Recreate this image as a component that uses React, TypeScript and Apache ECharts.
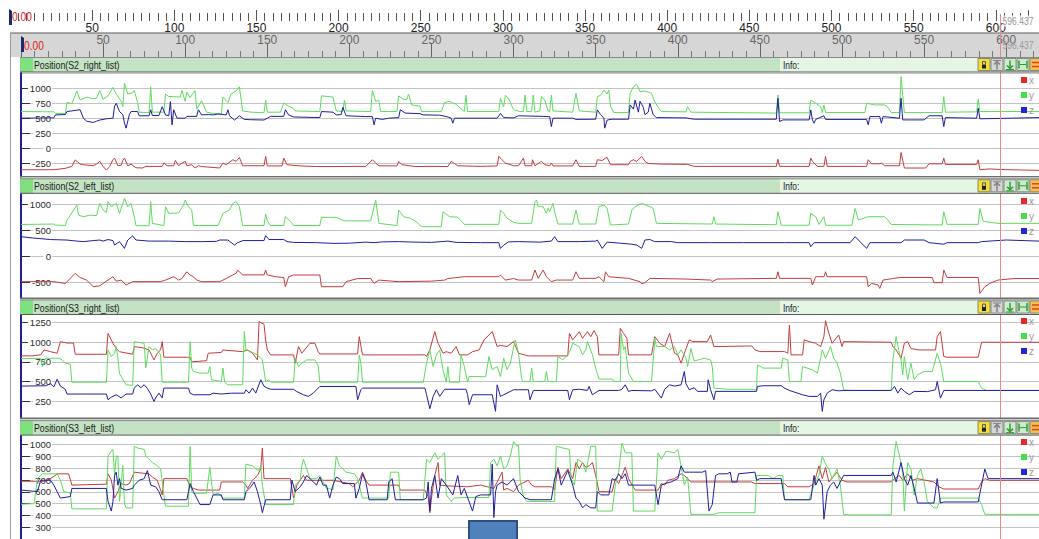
import React, { useEffect, useRef } from "react";
import * as echarts from "echarts";

type Pt = [number, number];

// ---------- data ----------
const TIME_MIN = 0;
const TIME_MAX = 620;
const CURSOR_TIME = 596.437;
const RULER_STEP = 50;

const panelTitles = [
  "Position(S2_right_list)",
  "Position(S2_left_list)",
  "Position(S3_right_list)",
  "Position(S3_left_list)",
];
const seriesNames = ["x", "y", "z"];
const panelAxisMin = [-500, -1000, 0, 200];
const panelAxisMax = [1250, 1250, 1500, 1100];
const panelAxisStep = [250, 500, 250, 100];

const s2RightX: Pt[] = [[0,-353],[20,-353],[27,-330],[31,-298],[33,-190],[36,-260],[38,-270],[44,-287],[46,-260],[48,-215],[50,-300],[52,-360],[54,-300],[56,-188],[57,-160],[59,-287],[61,-280],[62,-200],[63,-160],[65,-287],[67,-260],[70,-320],[74,-325],[76,-298],[86,-298],[87,-243],[89,-287],[93,-287],[94,-200],[96,-287],[98,-243],[100,-215],[101,-287],[104,-270],[106,-325],[108,-287],[110,-300],[121,-325],[123,-243],[125,-270],[129,-188],[131,-215],[133,-150],[135,-287],[148,-287],[149,-133],[150,-290],[159,-290],[160,-160],[162,-270],[170,-290],[180,-300],[190,-300],[210,-298],[214,-188],[216,-243],[218,-287],[229,-290],[230,-215],[232,-270],[240,-300],[251,-298],[260,-300],[262,-215],[264,-250],[266,-287],[280,-298],[290,-290],[291,-133],[293,-190],[295,-243],[300,-287],[303,-287],[306,-160],[307,-287],[311,-287],[311.5,-188],[313,-287],[317,-215],[319,-270],[322,-287],[323,-243],[324,-290],[336,-290],[338,-188],[340,-298],[350,-298],[351,-188],[354,-200],[356,-160],[357,-150],[359,-270],[370,-270],[371,-215],[373,-188],[375,-215],[378,-133],[380,-215],[382,-250],[390,-260],[406,-265],[410,-298],[460,-298],[461,-180],[462,-298],[480,-298],[481,-160],[482,-215],[485,-298],[489,-298],[490,-133],[491,-298],[515,-298],[516,-188],[518,-255],[523,-255],[524,-243],[526,-287],[535,-287],[536,-67],[538,-325],[551,-325],[553,-255],[561,-255],[562,-160],[563,-265],[582,-265],[583,-188],[584,-353],[590,-340],[597,-350],[620,-364]];
const s2RightY: Pt[] = [[0,610],[20,605],[21,580],[27,575],[28,760],[31,740],[34,950],[36,800],[40,850],[44,820],[46,830],[48,960],[50,810],[53,870],[56,1010],[58,900],[61,780],[62,690],[63,1080],[65,900],[68,920],[69,960],[71,760],[72,600],[78,590],[79,1020],[80,600],[87,600],[88,900],[90,860],[97,850],[98,960],[100,780],[101,930],[103,840],[106,960],[107,650],[110,790],[113,600],[117,580],[122,570],[123,850],[126,760],[128,900],[131,950],[133,1020],[135,620],[140,600],[148,590],[149,800],[150,600],[158,600],[160,750],[163,700],[166,660],[167,620],[182,610],[183,870],[190,850],[192,620],[196,610],[197,800],[198,620],[213,610],[214,960],[216,780],[218,790],[219,610],[229,610],[230,870],[233,810],[235,810],[236,900],[238,720],[243,700],[244,610],[256,610],[258,760],[261,780],[265,730],[267,680],[270,610],[271,880],[272,610],[291,610],[292,830],[294,690],[295,880],[297,820],[300,640],[304,610],[306,610],[307,885],[308,610],[311,610],[312,885],[313,600],[316,620],[317,857],[319,800],[321,620],[322,610],[323,885],[324,620],[336,600],[338,912],[340,620],[350,600],[351,857],[353,880],[355,967],[357,900],[358,967],[359,700],[361,593],[370,593],[371,912],[373,1022],[375,1060],[377,940],[380,950],[384,912],[386,775],[388,680],[390,610],[405,605],[406,690],[408,600],[460,585],[461,885],[462,590],[480,590],[481,800],[484,750],[487,690],[488,593],[489,720],[490,593],[514,593],[515,747],[520,720],[526,720],[528,680],[530,593],[535,593],[536,1187],[538,593],[561,593],[562,857],[563,600],[582,605],[583,813],[584,610],[620,610]];
const s2RightZ: Pt[] = [[0,500],[20,505],[21,555],[27,560],[28,610],[36,640],[38,500],[40,450],[44,430],[46,450],[48,470],[52,490],[56,500],[57,700],[58,747],[60,610],[62,560],[63,420],[64,335],[66,560],[67,610],[71,610],[72,540],[78,540],[79,640],[80,545],[84,545],[86,690],[88,555],[90,540],[91,775],[92,390],[93,640],[95,500],[100,500],[101,530],[107,530],[108,640],[110,555],[114,560],[117,555],[120,570],[125,555],[126,640],[127,540],[130,470],[133,540],[136,480],[140,475],[148,470],[150,500],[152,530],[160,530],[161,640],[163,555],[166,520],[182,510],[183,610],[190,600],[192,555],[195,560],[196,680],[198,540],[210,527],[214,527],[215,390],[216,500],[220,480],[224,500],[230,510],[231,640],[234,585],[243,575],[245,555],[255,550],[257,540],[260,520],[262,500],[263,417],[264,500],[290,500],[292,580],[294,510],[300,505],[303,540],[318,530],[322,525],[323,362],[324,500],[336,500],[338,480],[350,483],[351,637],[353,560],[355,500],[355.5,335],[357,470],[360,483],[370,483],[371,720],[373,650],[374,800],[376,600],[377,780],[379,680],[380,560],[382,600],[383,747],[385,560],[387,510],[405,505],[410,483],[460,483],[461,830],[462,445],[464,472],[480,472],[481,637],[482,472],[483,417],[484,480],[489,540],[490,480],[515,480],[516,390],[517,527],[523,527],[524,417],[525,527],[535,500],[536,830],[537,472],[550,472],[553,540],[561,540],[562,362],[563,510],[582,500],[583,665],[584,490],[620,510]];

const s2LeftX: Pt[] = [[0,-480],[20,-480],[27,-515],[33,-320],[36,-400],[40,-450],[44,-577],[48,-560],[50,-513],[56,-385],[58,-470],[61,-450],[64,-545],[68,-480],[85,-480],[88,-450],[93,-385],[96,-450],[98,-420],[101,-290],[103,-350],[105,-385],[107,-450],[110,-480],[121,-480],[125,-420],[129,-350],[131,-320],[132,-260],[135,-350],[148,-350],[149,-256],[150,-350],[155,-385],[160,-400],[161,-577],[163,-385],[166,-352],[182,-352],[183,-577],[196,-577],[198,-480],[205,-420],[213,-420],[215,-513],[218,-450],[230,-480],[250,-470],[258,-450],[260,-420],[270,-385],[291,-385],[292,-352],[295,-450],[300,-420],[303,-449],[311,-449],[313,-256],[315,-417],[318,-256],[320,-385],[323,-480],[326,-449],[336,-449],[338,-290],[340,-417],[350,-417],[352,-385],[355,-480],[356,-290],[358,-385],[370,-417],[377,-480],[378,-520],[380,-500],[383,-417],[405,-430],[420,-449],[421,-480],[424,-430],[460,-417],[461,-290],[462,-417],[481,-417],[482,-545],[484,-385],[489,-385],[490,-290],[491,-385],[515,-385],[516,-577],[518,-513],[522,-545],[523,-610],[525,-449],[535,-400],[555,-400],[556,-500],[561,-500],[562,-256],[564,-400],[583,-400],[584,-705],[587,-577],[590,-513],[595,-449],[605,-420],[620,-420]];
const s2LeftY: Pt[] = [[0,620],[20,628],[21,609],[27,600],[28,700],[34,995],[35,800],[38,769],[42,800],[46,790],[48,1026],[50,897],[52,850],[53,1058],[55,960],[58,1026],[60,833],[63,1122],[65,962],[67,1026],[69,769],[70,596],[78,596],[79,1058],[80,640],[87,600],[88,962],[90,833],[96,840],[99,995],[100,1090],[102,962],[104,897],[105,600],[120,600],[123,833],[127,897],[129,1026],[131,1058],[133,962],[135,600],[148,600],[149,820],[150,690],[152,600],[160,600],[161,769],[164,680],[166,600],[182,600],[183,756],[192,756],[196,700],[198,690],[213,690],[216,1090],[218,640],[229,600],[230,897],[233,769],[237,740],[240,690],[244,577],[256,577],[257,865],[261,769],[266,760],[268,690],[270,622],[291,622],[292,897],[294,833],[296,740],[300,660],[303,641],[311,641],[313,1058],[314,1090],[315,962],[318,962],[320,833],[321,930],[322,865],[324,1026],[325,865],[327,628],[336,628],[338,897],[340,628],[350,628],[352,962],[355,995],[357,930],[359,609],[370,628],[372,897],[374,962],[378,1026],[383,962],[385,930],[387,641],[421,628],[422,769],[423,628],[460,615],[461,865],[463,605],[480,605],[481,833],[484,769],[486,620],[489,769],[490,605],[506,605],[508,929],[510,705],[516,769],[526,769],[528,705],[530,620],[561,610],[562,865],[564,622],[583,622],[584,929],[586,680],[595,641],[620,641]];
const s2LeftZ: Pt[] = [[0,385],[7,360],[18,330],[28,320],[34,300],[38,290],[44,310],[48,320],[50,300],[53,330],[56,310],[57,224],[60,290],[63,160],[65,320],[68,400],[70,321],[78,300],[90,300],[100,290],[110,290],[119,295],[121,321],[126,320],[130,224],[132,270],[135,310],[148,310],[149,404],[151,330],[160,330],[162,290],[166,275],[180,270],[190,256],[200,260],[210,280],[215,270],[220,285],[230,290],[240,280],[250,275],[260,300],[265,275],[280,270],[291,270],[292,160],[294,224],[297,285],[303,290],[316,280],[323,300],[325,385],[327,290],[340,290],[350,300],[351,321],[354,160],[357,280],[365,260],[372,240],[375,224],[378,160],[380,321],[383,330],[386,290],[396,290],[400,270],[420,270],[440,270],[465,270],[480,270],[481,192],[483,270],[505,270],[508,385],[510,321],[515,160],[517,270],[536,270],[538,321],[550,321],[553,270],[562,240],[564,270],[583,270],[585,290],[600,321],[620,300]];

const s3RightX: Pt[] = [[0,826],[7,826],[12,840],[14,902],[18,880],[22,860],[24,1008],[28,990],[32,990],[33,847],[52,847],[53,1114],[56,987],[58,920],[60,880],[68,847],[69,945],[74,930],[78,902],[81,775],[83,860],[85,902],[86,1008],[87,809],[103,809],[104,750],[113,765],[114,860],[122,870],[123,902],[135,880],[138,902],[141,860],[144,775],[145,1263],[148,1230],[149,1030],[150,902],[152,839],[166,839],[167,733],[169,945],[171,860],[176,987],[179,987],[181,880],[182,851],[205,851],[206,1072],[208,839],[246,839],[247,818],[249,902],[252,1136],[254,987],[257,860],[259,880],[262,860],[265,945],[267,839],[272,839],[275,880],[279,902],[282,1030],[287,1136],[290,945],[292,960],[296,945],[300,1008],[303,860],[309,826],[333,826],[334,1114],[336,1030],[340,1136],[342,1050],[345,1136],[347,1072],[349,1148],[351,1072],[352,839],[364,839],[365,1178],[367,1114],[369,1050],[370,839],[384,839],[386,1072],[389,987],[392,945],[395,1114],[398,860],[400,839],[402,733],[404,860],[407,1030],[409,1008],[418,1008],[420,1093],[422,945],[445,953],[447,902],[450,881],[465,881],[467,860],[468,1220],[469,839],[476,839],[477,1030],[480,1008],[484,987],[487,945],[489,1072],[490,1275],[492,1114],[494,987],[498,1093],[500,945],[501,1008],[530,1000],[531,945],[533,902],[536,796],[538,987],[540,1008],[542,920],[547,902],[557,902],[558,1072],[560,1136],[562,818],[564,809],[583,809],[585,1000],[620,1000]];
const s3RightY: Pt[] = [[0,790],[12,796],[13,690],[15,796],[23,796],[25,775],[27,733],[30,720],[31,490],[52,490],[53,902],[55,818],[57,860],[58,945],[59,796],[60,600],[64,457],[68,450],[69,1008],[75,987],[76,670],[78,945],[80,902],[82,920],[85,840],[86,490],[102,490],[103,1008],[104,670],[105,627],[109,606],[114,606],[115,690],[116,521],[122,500],[123,670],[124,490],[126,457],[135,457],[136,1136],[137,902],[140,881],[144,839],[147,775],[149,500],[151,521],[152,490],[166,490],[167,796],[169,690],[171,733],[174,775],[179,775],[181,700],[182,490],[205,490],[206,839],[207,733],[208,490],[245,490],[247,733],[249,902],[251,690],[253,839],[255,902],[257,650],[259,490],[260,690],[261,490],[267,490],[268,839],[270,690],[272,490],[273,563],[283,560],[285,818],[287,650],[290,690],[292,563],[294,796],[296,650],[298,733],[301,1030],[303,860],[305,520],[306,500],[310,500],[311,670],[312,500],[319,500],[320,627],[321,500],[326,500],[327,818],[330,775],[334,870],[336,987],[340,945],[342,840],[344,902],[345,1008],[348,840],[350,670],[352,530],[360,530],[361,500],[365,500],[365.5,1114],[367,902],[368,945],[370,606],[373,500],[384,500],[386,1050],[387,945],[392,945],[395,902],[398,945],[400,840],[402,902],[405,796],[406,690],[408,920],[410,760],[416,796],[420,775],[421,690],[422,415],[430,400],[445,400],[448,394],[448.5,711],[452,670],[463,670],[464,796],[467,775],[468,500],[475,500],[476,690],[482,648],[485,606],[487,796],[488,902],[490,796],[493,945],[495,796],[497,733],[499,606],[501,394],[505,385],[530,385],[531,775],[533,1072],[535,860],[536,775],[537,585],[538,818],[540,521],[542,733],[544,521],[546,585],[550,627],[555,627],[558,860],[560,733],[562,500],[583,500],[585,415],[588,385],[620,385]];
const s3RightZ: Pt[] = [[0,440],[15,445],[18,470],[20,430],[22,528],[24,440],[27,400],[28,339],[52,339],[53,266],[55,300],[58,330],[61,290],[64,339],[68,339],[69,415],[71,457],[73,420],[75,457],[77,410],[79,339],[81,245],[82,290],[84,351],[86,290],[87,415],[102,415],[103,350],[105,330],[115,330],[117,350],[122,339],[128,350],[136,350],[137,394],[139,350],[141,415],[143,351],[146,521],[148,440],[150,415],[152,400],[166,400],[168,370],[172,330],[175,309],[178,351],[181,415],[182,436],[204,436],[205,266],[207,394],[208,415],[246,415],[247,330],[249,152],[251,309],[253,394],[255,309],[258,400],[271,400],[272,330],[273,203],[275,330],[287,330],[289,118],[290,457],[292,309],[296,351],[300,394],[303,394],[309,394],[310,266],[312,385],[333,385],[334,266],[336,394],[340,400],[345,385],[346,436],[348,330],[352,385],[364,385],[366,400],[368,457],[370,373],[372,385],[384,380],[386,400],[390,287],[392,400],[395,457],[398,440],[402,457],[404,627],[405,470],[407,394],[410,420],[412,373],[418,373],[418.5,521],[420,394],[422,266],[423,373],[448,373],[448.5,436],[452,445],[463,445],[465,415],[468,385],[476,330],[480,309],[485,309],[487,350],[488,118],[489,266],[491,350],[494,394],[498,380],[501,385],[530,385],[532,436],[534,351],[536,415],[538,373],[541,330],[544,373],[552,370],[557,394],[558,500],[560,287],[562,385],[620,385]];

const s3LeftX: Pt[] = [[0,690],[15,690],[20,730],[22,753],[29,753],[31,657],[52,665],[53,753],[55,700],[57,547],[59,600],[61,670],[64,657],[66,670],[69,767],[73,760],[78,753],[80,725],[83,698],[86,574],[87,712],[101,712],[103,643],[105,629],[108,615],[121,615],[122,684],[135,684],[137,657],[138,629],[141,698],[144,739],[146,794],[147,972],[148,712],[164,712],[166,547],[168,657],[170,698],[172,739],[174,698],[190,698],[200,670],[202,643],[206,698],[208,767],[210,698],[212,657],[230,657],[231,615],[246,615],[248,560],[249,423],[250,547],[252,739],[254,849],[255,657],[260,650],[272,643],[280,657],[284,643],[288,629],[291,712],[293,767],[294,615],[296,629],[300,602],[303,657],[309,698],[311,657],[313,643],[323,643],[325,615],[327,808],[329,712],[333,794],[336,712],[338,849],[340,794],[342,849],[344,808],[346,821],[348,849],[350,739],[352,602],[360,600],[362,712],[364,670],[366,739],[368,808],[370,712],[374,615],[388,615],[390,670],[392,657],[394,698],[398,712],[402,753],[404,739],[408,684],[445,684],[447,670],[465,670],[467,643],[480,643],[483,670],[486,821],[488,712],[490,808],[492,684],[497,767],[500,698],[503,684],[530,684],[532,712],[535,739],[537,698],[540,753],[543,698],[546,712],[556,684],[559,643],[562,624],[583,624],[585,684],[587,712],[590,698],[620,698]];
const s3LeftY: Pt[] = [[0,495],[8,500],[10,712],[13,753],[22,753],[24,698],[26,602],[30,590],[31,456],[52,456],[53,904],[55,945],[56,960],[57,739],[58,904],[59,904],[60,520],[62,821],[63,500],[64,464],[68,464],[69,986],[71,972],[75,960],[76,904],[78,876],[80,849],[83,821],[85,794],[87,574],[88,478],[102,478],[103,986],[104,602],[105,588],[113,588],[115,808],[117,574],[120,590],[123,547],[136,547],[137,835],[141,821],[143,794],[145,780],[146,821],[147,657],[149,492],[166,492],[167,657],[170,698],[171,821],[172,876],[174,794],[176,712],[180,712],[182,739],[186,629],[190,620],[192,904],[194,821],[198,767],[203,753],[205,712],[208,547],[224,547],[225,767],[230,767],[231,533],[245,533],[247,876],[249,849],[251,904],[252,931],[254,876],[256,904],[258,931],[259,574],[262,520],[264,547],[270,552],[285,552],[286,849],[288,876],[290,821],[292,904],[294,794],[296,821],[298,904],[300,1027],[302,986],[303,1000],[304,700],[306,560],[308,519],[325,519],[326,986],[330,972],[334,960],[335,712],[337,657],[339,876],[342,849],[344,767],[347,986],[350,986],[351,437],[360,437],[362,657],[364,767],[366,1014],[368,931],[372,931],[373,437],[386,437],[388,931],[390,876],[393,945],[398,931],[400,959],[402,821],[404,657],[406,725],[408,409],[422,409],[425,423],[447,423],[448,739],[455,739],[458,712],[461,739],[464,739],[465,533],[480,533],[483,657],[486,739],[488,904],[490,835],[492,794],[494,712],[497,794],[499,657],[501,409],[505,404],[530,404],[531,821],[533,1027],[535,904],[537,767],[538,437],[540,849],[542,794],[544,574],[546,739],[548,794],[550,684],[552,519],[556,464],[558,464],[560,547],[583,547],[585,492],[587,409],[620,409]];
const s3LeftZ: Pt[] = [[0,615],[10,602],[12,698],[18,698],[20,657],[23,574],[24,547],[30,560],[31,629],[52,629],[53,519],[55,437],[56,519],[57,739],[58,767],[59,657],[60,712],[61,629],[64,615],[68,629],[69,657],[72,698],[75,712],[77,780],[79,657],[82,643],[84,602],[86,533],[101,533],[103,670],[105,602],[109,492],[115,492],[117,574],[122,574],[123,533],[136,533],[137,602],[140,643],[142,684],[144,602],[146,492],[147,423],[149,533],[164,533],[165,698],[167,602],[170,643],[172,684],[174,739],[176,712],[180,657],[182,725],[184,657],[186,657],[188,547],[190,657],[192,725],[194,712],[196,670],[203,670],[204,547],[206,629],[208,753],[210,684],[212,533],[223,533],[224,684],[226,712],[228,533],[245,533],[247,547],[248,684],[249,437],[250,629],[252,739],[254,547],[256,712],[259,657],[263,574],[266,739],[268,574],[270,629],[275,437],[277,560],[280,574],[286,574],[287,835],[288,382],[289,600],[290,657],[293,684],[296,657],[300,712],[303,602],[307,547],[310,533],[323,533],[325,712],[327,794],[329,657],[333,780],[336,657],[338,547],[340,519],[342,464],[344,492],[347,464],[350,464],[351,602],[353,574],[358,574],[360,712],[362,698],[364,753],[366,712],[368,753],[370,657],[386,657],[388,492],[390,657],[392,670],[396,684],[400,712],[402,821],[404,767],[407,767],[415,767],[417,780],[419,437],[421,492],[423,739],[425,753],[430,753],[432,767],[433,684],[436,684],[437,753],[447,767],[448,698],[450,712],[463,712],[465,533],[481,533],[483,739],[484,657],[486,712],[488,657],[489,368],[491,602],[493,657],[495,684],[497,629],[499,684],[501,739],[530,739],[531,767],[533,684],[536,849],[538,712],[540,657],[542,739],[544,629],[546,505],[556,505],[558,712],[560,505],[562,514],[583,514],[585,657],[587,794],[589,712],[620,712]];

const panelData: Pt[][][] = [
  [s2RightX, s2RightY, s2RightZ],
  [s2LeftX, s2LeftY, s2LeftZ],
  [s3RightX, s3RightY, s3RightZ],
  [s3LeftX, s3LeftY, s3LeftZ],
];

// ---------- layout / style ----------
const W = 1039;
const H = 539;
const PX_PER_UNIT = 1.643;
const PLOT_LEFT = 21;
const TOP_RULER_LEFT = 10;
const AXIS_WIDTH = (TIME_MAX - TIME_MIN) * PX_PER_UNIT;
const lineColors = ["#c43c3c", "#5cdc5c", "#1e1e9e"];
const legendColors = ["#e82828", "#46e046", "#2424d8"];
const SANS = "'Liberation Sans',Arial,sans-serif";

const panelLayout = [
  { gridTop: 72.9, gridHeight: 105.7, headerTop: 57.5, legendTop: 77 },
  { gridTop: 191.7, gridHeight: 117, headerTop: 178.8, legendTop: 198 },
  { gridTop: 303.1, gridHeight: 117.5, headerTop: 300, legendTop: 318 },
  { gridTop: 432.9, gridHeight: 109.3, headerTop: 420.6, legendTop: 439 },
];
const HEADER_H = 14.5;

function headerEls(title: string, hT: number): any[] {
  const hB = hT + HEADER_H;
  const y0 = hT + 1;
  const midY = hT + HEADER_H / 2 + 0.5;
  return [
    { type: "rect", z: 50, shape: { x: 20, y: hT, width: W - 20, height: HEADER_H }, style: { fill: "#c4e3c4" } },
    { type: "rect", z: 50, shape: { x: 20, y: hT, width: 13, height: HEADER_H }, style: { fill: "#7ee07e" } },
    { type: "rect", z: 50, shape: { x: 780, y: hT, width: 198, height: HEADER_H }, style: { fill: "#e5f6e5" } },
    { type: "line", z: 51, shape: { x1: 20, y1: hT, x2: W, y2: hT }, style: { stroke: "#8a8a8a", lineWidth: 1 } },
    { type: "line", z: 51, shape: { x1: 20, y1: hB, x2: W, y2: hB }, style: { stroke: "#5a5a5a", lineWidth: 1 } },
    { type: "text", z: 52, x: 34, y: midY, scaleX: 0.8, style: { text: title, fill: "#1a1a1a", fontSize: 11, fontFamily: SANS, verticalAlign: "middle" } },
    { type: "text", z: 52, x: 783, y: midY, scaleX: 0.8, style: { text: "Info:", fill: "#1a1a1a", fontSize: 10.5, fontFamily: SANS, verticalAlign: "middle" } },
    // lock icon
    { type: "rect", z: 53, shape: { x: 978, y: y0, width: 12, height: 12 }, style: { fill: "#f2df3c", stroke: "#8a8a5a", lineWidth: 1 } },
    { type: "rect", z: 54, shape: { x: 982, y: y0 + 6, width: 4, height: 4 }, style: { fill: "#222" } },
    { type: "polyline", z: 54, shape: { points: [[982.5, y0 + 6], [982.5, y0 + 3], [985.5, y0 + 3], [985.5, y0 + 6]] }, style: { stroke: "#555", fill: null, lineWidth: 1 } },
    // up arrow icon
    { type: "rect", z: 53, shape: { x: 991, y: y0, width: 12, height: 12 }, style: { fill: "#d6d6d6", stroke: "#8a8a8a", lineWidth: 1 } },
    { type: "line", z: 54, shape: { x1: 997, y1: y0 + 3, x2: 997, y2: y0 + 11 }, style: { stroke: "#808080", lineWidth: 1.5 } },
    { type: "polyline", z: 54, shape: { points: [[994, y0 + 6], [997, y0 + 3], [1000, y0 + 6]] }, style: { stroke: "#808080", fill: null, lineWidth: 1.5 } },
    { type: "line", z: 54, shape: { x1: 993, y1: y0 + 2, x2: 1001, y2: y0 + 2 }, style: { stroke: "#808080", lineWidth: 1 } },
    // down arrow icon
    { type: "rect", z: 53, shape: { x: 1004, y: y0, width: 12, height: 12 }, style: { fill: "#cdeccd", stroke: "#8a8a8a", lineWidth: 1 } },
    { type: "line", z: 54, shape: { x1: 1010, y1: y0 + 2, x2: 1010, y2: y0 + 10 }, style: { stroke: "#2f9a2f", lineWidth: 1.5 } },
    { type: "polyline", z: 54, shape: { points: [[1007, y0 + 7], [1010, y0 + 10], [1013, y0 + 7]] }, style: { stroke: "#2f9a2f", fill: null, lineWidth: 1.5 } },
    { type: "line", z: 54, shape: { x1: 1006, y1: y0 + 11, x2: 1014, y2: y0 + 11 }, style: { stroke: "#2f9a2f", lineWidth: 1 } },
    // left-right icon
    { type: "rect", z: 53, shape: { x: 1017, y: y0, width: 12, height: 12 }, style: { fill: "#cdeccd", stroke: "#8a8a8a", lineWidth: 1 } },
    { type: "line", z: 54, shape: { x1: 1019, y1: y0 + 2, x2: 1019, y2: y0 + 10 }, style: { stroke: "#2f9a2f", lineWidth: 1.5 } },
    { type: "line", z: 54, shape: { x1: 1027, y1: y0 + 2, x2: 1027, y2: y0 + 10 }, style: { stroke: "#2f9a2f", lineWidth: 1.5 } },
    { type: "line", z: 54, shape: { x1: 1020, y1: y0 + 6, x2: 1026, y2: y0 + 6 }, style: { stroke: "#2f9a2f", lineWidth: 1 } },
    // orange icon (cut off)
    { type: "rect", z: 53, shape: { x: 1030, y: y0, width: 12, height: 12 }, style: { fill: "#f4c24c", stroke: "#8a8a8a", lineWidth: 1 } },
    { type: "line", z: 54, shape: { x1: 1032, y1: y0 + 4, x2: 1039, y2: y0 + 4 }, style: { stroke: "#e0402a", lineWidth: 1.5 } },
    { type: "line", z: 54, shape: { x1: 1032, y1: y0 + 8, x2: 1039, y2: y0 + 8 }, style: { stroke: "#e0402a", lineWidth: 1.5 } },
  ];
}

function legendEls(lT: number): any[] {
  const els: any[] = [];
  seriesNames.forEach((n, j) => {
    const y = lT + j * 15;
    els.push({ type: "rect", z: 60, shape: { x: 1021, y, width: 6, height: 6 }, style: { fill: legendColors[j] } });
    els.push({ type: "text", z: 60, x: 1029, y: y + 3, style: { text: n, fill: "#9a9a9a", fontSize: 10, fontFamily: SANS, verticalAlign: "middle" } });
  });
  return els;
}

function separatorEls(y: number): any[] {
  return [
    { type: "rect", z: 49, shape: { x: 20, y, width: W - 20, height: 1.5 }, style: { fill: "#6e6e6e" } },
    { type: "rect", z: 49, shape: { x: 20, y: y + 1.5, width: W - 20, height: 1.5 }, style: { fill: "#d2d2d2" } },
  ];
}

function buildGraphic(cursorX: number): any[] {
  const els: any[] = [];
  els.push({ type: "rect", z: 1, shape: { x: 10, y: 33, width: 11, height: 24 }, style: { fill: "#d6d6d6" } });
  els.push({ type: "line", z: 40, shape: { x1: 10, y1: 33, x2: W, y2: 33 }, style: { stroke: "#5a5a5a", lineWidth: 1 } });
  els.push({ type: "line", z: 40, shape: { x1: 10.5, y1: 33, x2: 10.5, y2: H }, style: { stroke: "#9c9c9c", lineWidth: 1 } });
  // cursor
  els.push({ type: "line", z: 45, shape: { x1: cursorX, y1: 14, x2: cursorX, y2: H }, style: { stroke: "#e58a8a", lineWidth: 1 } });
  els.push({ type: "text", z: 46, x: cursorX + 2, y: 21, scaleX: 0.78, style: { text: String(CURSOR_TIME), fill: "#9a9a9a", fontSize: 11, fontFamily: SANS, verticalAlign: "middle", backgroundColor: "rgba(255,255,255,0.75)" } });
  els.push({ type: "text", z: 46, x: cursorX + 2, y: 45, scaleX: 0.78, style: { text: String(CURSOR_TIME), fill: "#9a9a9a", fontSize: 11, fontFamily: SANS, verticalAlign: "middle" } });
  // zero markers
  els.push({ type: "polygon", z: 46, shape: { points: [[9, 9], [12, 11], [12, 25], [9, 25]] }, style: { fill: "#1c2a6e" } });
  els.push({ type: "text", z: 46, x: 12, y: 17, scaleX: 0.85, style: { text: "0.00", fill: "#e02020", fontSize: 12, fontFamily: SANS, verticalAlign: "middle" } });
  els.push({ type: "polygon", z: 46, shape: { points: [[21, 36], [24, 38], [24, 52], [21, 52]] }, style: { fill: "#1c2a6e" } });
  els.push({ type: "text", z: 46, x: 24, y: 46, scaleX: 0.85, style: { text: "0.00", fill: "#e02020", fontSize: 12, fontFamily: SANS, verticalAlign: "middle" } });

  panelLayout.forEach((p, i) => {
    els.push(...headerEls(panelTitles[i], p.headerTop));
    els.push(...legendEls(p.legendTop));
  });
  els.push(...separatorEls(176), ...separatorEls(297.5), ...separatorEls(417.6));
  els.push({ type: "rect", z: 70, shape: { x: 469, y: 521, width: 48, height: 20 }, style: { fill: "#4f81bd", stroke: "#2f4f7f", lineWidth: 2 } });
  return els;
}

function buildOption(): any {
  const grids: any[] = [
    { left: TOP_RULER_LEFT, top: 10, width: AXIS_WIDTH, height: 11, show: false },
    { left: PLOT_LEFT, top: 33, width: AXIS_WIDTH, height: 24, show: true, backgroundColor: "#d6d6d6", borderWidth: 0 },
  ];
  const plain = (v: number) => String(v);
  const xAxes: any[] = [
    {
      gridIndex: 0, type: "value", min: TIME_MIN, max: TIME_MAX, interval: RULER_STEP, position: "bottom",
      axisLine: { show: false },
      axisTick: { show: true, inside: true, length: 11, lineStyle: { color: "#555" } },
      minorTick: { show: true, splitNumber: 10, length: 8, lineStyle: { color: "#555" } },
      axisLabel: { margin: 1, fontSize: 12, color: "#222", fontFamily: SANS, showMinLabel: false, showMaxLabel: false, formatter: plain },
      splitLine: { show: false },
    },
    {
      gridIndex: 1, type: "value", min: TIME_MIN, max: TIME_MAX, interval: RULER_STEP, position: "bottom",
      axisLine: { show: false },
      axisTick: { show: true, inside: true, length: 14, lineStyle: { color: "#666" } },
      minorTick: { show: true, splitNumber: 6, length: 6, lineStyle: { color: "#777" } },
      axisLabel: { inside: true, margin: 11, fontSize: 12, color: "#666", fontFamily: SANS, showMinLabel: false, showMaxLabel: false, formatter: plain },
      splitLine: { show: false },
    },
  ];
  const yAxes: any[] = [
    { gridIndex: 0, type: "value", show: false, min: 0, max: 1 },
    { gridIndex: 1, type: "value", show: false, min: 0, max: 1 },
  ];
  const series: any[] = [];
  panelLayout.forEach((p, i) => {
    const gi = i + 2;
    grids.push({ left: PLOT_LEFT, top: p.gridTop, width: AXIS_WIDTH, height: p.gridHeight, show: false });
    xAxes.push({ gridIndex: gi, type: "value", min: TIME_MIN, max: TIME_MAX, show: false });
    yAxes.push({
      gridIndex: gi, type: "value", min: panelAxisMin[i], max: panelAxisMax[i], interval: panelAxisStep[i],
      axisLine: { show: true, onZero: false, lineStyle: { color: "#1e1e9e", width: 2 } },
      axisTick: { show: true, inside: true, length: 9, lineStyle: { color: "#333" } },
      axisLabel: {
        inside: true, align: "right", margin: 31, fontSize: 9.5, color: "#2a2a2a", fontFamily: SANS,
        backgroundColor: "#fff", padding: [0, 1, 0, 2], showMinLabel: false, showMaxLabel: false, formatter: plain,
      },
      splitLine: { show: true, lineStyle: { color: "#c4c4c4", width: 1 } },
    });
    panelData[i].forEach((d, j) => {
      series.push({
        type: "line", name: seriesNames[j], xAxisIndex: gi, yAxisIndex: gi, data: d,
        showSymbol: false, symbol: "none", silent: true, z: 2 + j,
        lineStyle: { width: 1, color: lineColors[j] }, itemStyle: { color: lineColors[j] },
      });
    });
  });
  return { animation: false, backgroundColor: "#ffffff", grid: grids, xAxis: xAxes, yAxis: yAxes, series };
}

export default function App() {
  const ref = useRef<HTMLDivElement>(null);
  useEffect(() => {
    if (!ref.current) return;
    const chart = echarts.init(ref.current, undefined, { renderer: "svg" });
    chart.setOption(buildOption());
    const cx = chart.convertToPixel({ xAxisIndex: 2 }, CURSOR_TIME) as unknown as number;
    chart.setOption({ graphic: { elements: buildGraphic(Math.round(cx) + 0.5) } });
    return () => chart.dispose();
  }, []);
  return <div ref={ref} style={{ position: "absolute", left: 0, top: 0, width: W, height: H }} />;
}
